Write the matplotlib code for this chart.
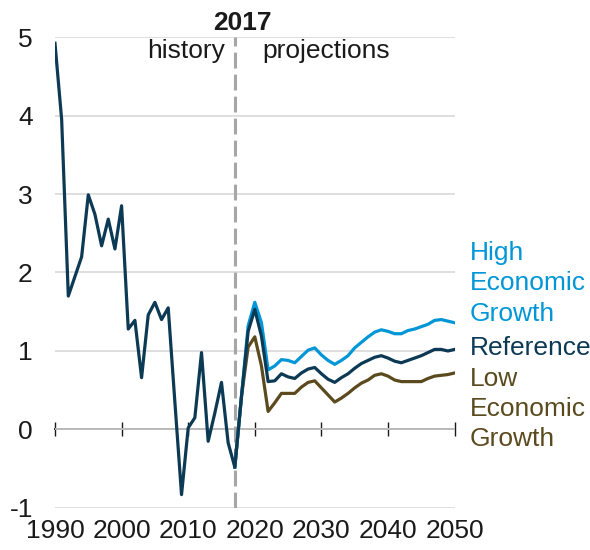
import numpy as np
import matplotlib
matplotlib.use("Agg")
import matplotlib.pyplot as plt

plt.rcParams['font.family'] = ['Liberation Sans', 'DejaVu Sans']
plt.rcParams['axes.unicode_minus'] = False

# ---------- DATA ----------
hist_years = list(range(1990, 2018))
hist_vals = [4.92, 3.95, 1.70, 1.95, 2.20, 2.99, 2.74, 2.34, 2.68, 2.30,
             2.85, 1.28, 1.39, 0.66, 1.46, 1.62, 1.40, 1.55, 0.35, -0.83,
             0.02, 0.15, 0.98, -0.15, 0.21, 0.60, -0.17, -0.48]

proj_years = list(range(2017, 2051))
reference = [-0.48, 0.42, 1.25, 1.53, 1.19, 0.61, 0.62, 0.71, 0.67, 0.65,
             0.72, 0.77, 0.79, 0.71, 0.64, 0.60, 0.66, 0.71, 0.78, 0.84,
             0.88, 0.92, 0.94, 0.91, 0.87, 0.85, 0.88, 0.91, 0.94, 0.98,
             1.02, 1.02, 1.00, 1.02]
high_growth = [-0.48, 0.42, 1.32, 1.62, 1.36, 0.76, 0.81, 0.89, 0.88, 0.85,
               0.93, 1.01, 1.04, 0.95, 0.88, 0.83, 0.88, 0.94, 1.04, 1.11,
               1.18, 1.24, 1.27, 1.25, 1.22, 1.22, 1.26, 1.28, 1.31, 1.34,
               1.39, 1.40, 1.38, 1.36]
low_growth = [-0.48, 0.42, 1.05, 1.18, 0.81, 0.23, 0.34, 0.46, 0.46, 0.46,
              0.54, 0.60, 0.62, 0.53, 0.44, 0.35, 0.40, 0.46, 0.53, 0.59,
              0.63, 0.69, 0.71, 0.68, 0.63, 0.61, 0.61, 0.61, 0.61, 0.65,
              0.68, 0.69, 0.70, 0.72]

x_ticks = [1990, 2000, 2010, 2020, 2030, 2040, 2050]
y_ticks = [-1, 0, 1, 2, 3, 4, 5]
last_hist = 2017

c_ref = '#0C3A55'
c_high = '#0096D7'
c_low = '#5C4A1F'
c_text = '#1A1A1A'

# ---------- PLOT ----------
fig = plt.figure(figsize=(5.9, 5.5), dpi=100)
ax = fig.add_axes([0.0932, 0.0764, 0.6773, 0.8563])

ax.set_xlim(1990, 2050)
ax.set_ylim(-1, 5)

for s in ax.spines.values():
    s.set_visible(False)

ax.set_yticks(y_ticks)
ax.set_xticks(x_ticks)
ax.grid(axis='y', color='#D9D9D9', linewidth=1.2, zorder=0)
ax.grid(axis='x', visible=False)
ax.tick_params(axis='y', length=0, pad=16, labelsize=19, labelcolor=c_text)
ax.tick_params(axis='x', length=0, pad=8, labelsize=19, labelcolor=c_text)

# zero line with decade ticks
sec = ax.secondary_xaxis(0, transform=ax.transData)
sec.set_xticks(x_ticks)
sec.tick_params(direction='inout', length=10, width=1.0, color=c_text,
                labelbottom=False, labeltop=False)
for k, s in sec.spines.items():
    s.set_color(c_text)
    s.set_linewidth(1.4)

# history / projections divider
ax.plot([last_hist, last_hist], [-1, 5], color='#A6A6A6', linewidth=2.2,
        dashes=(5.2, 2.0), zorder=2)

ax.plot(proj_years, low_growth, color=c_low, linewidth=2.3, zorder=3)
ax.plot(proj_years, high_growth, color=c_high, linewidth=2.3, zorder=4)
ax.plot(hist_years + proj_years[1:], hist_vals + reference[1:],
        color=c_ref, linewidth=2.3, zorder=5)

ax.text(2018.2, 5.09, '2017', ha='center', va='baseline', fontsize=19,
        fontweight='bold', color=c_text)
ax.text(2015.6, 4.73, 'history', ha='right', va='baseline', fontsize=19,
        color=c_text)
ax.text(2021.1, 4.73, 'projections', ha='left', va='baseline', fontsize=19,
        color=c_text)

lab_x = 2052.3
ax.text(lab_x, 1.86, 'High\nEconomic\nGrowth', ha='left', va='center',
        fontsize=19, color=c_high, linespacing=1.33, clip_on=False)
ax.text(lab_x, 1.04, 'Reference', ha='left', va='center',
        fontsize=19, color=c_ref, clip_on=False)
ax.text(lab_x, 0.26, 'Low\nEconomic\nGrowth', ha='left', va='center',
        fontsize=19, color=c_low, linespacing=1.33, clip_on=False)

fig.savefig('out.png', dpi=100)
